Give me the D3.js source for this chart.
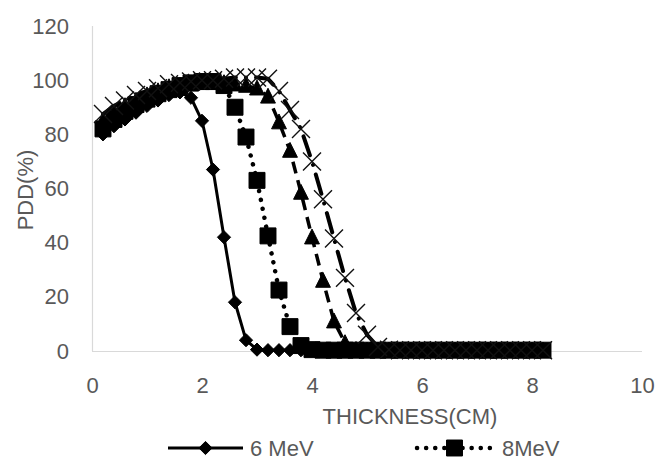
<!DOCTYPE html>
<html><head><meta charset="utf-8">
<script src="https://cdn.jsdelivr.net/npm/d3@7"></script>
<style>
body{margin:0;background:#fff}
svg{display:block}
text{font-family:"Liberation Sans",Arial,sans-serif;fill:#595959}
</style>
</head><body>
<svg id="chart" width="658" height="460"></svg>
<script>
// ---------------- data ----------------
const thickness = [0.2,0.4,0.6,0.8,1.0,1.2,1.4,1.6,1.8,2.0,2.2,2.4,2.6,2.8,3.0,3.2,3.4,3.6,3.8,4.0,4.2,4.4,4.6,4.8,5.0,5.2,5.4,5.6,5.8,6.0,6.2,6.4,6.6,6.8,7.0,7.2,7.4,7.6,7.8,8.0,8.2];
const pdd6MeV  = [80,83,85.5,88,90.5,92.5,94.5,95.5,93.5,85,67,42,18,4,0.5,0.3,0.3,0.3,0.3,0.2,0.2,0.2,0.2,0.2,0.2,0.2,0.2,0.2,0.2,0.2,0.2,0.2,0.2,0.2,0.2,0.2,0.2,0.2,0.2,0.2,0.2];
const pdd8MeV  = [82,85.5,88.5,91,93,95,96.5,98,99,99.5,99.5,98,90,79,63,42.5,22.5,9,2,0.5,0.3,0.3,0.3,0.3,0.3,0.3,0.3,0.3,0.3,0.3,0.3,0.3,0.3,0.3,0.3,0.3,0.3,0.3,0.3,0.3,0.3];
const pdd10MeV = [85,88,90.5,92.5,94.5,96,97.5,98,98.5,99,99,99,98.5,98,97,94,84.5,74,58.5,42,26,11,3,0.5,0.3,0.3,0.3,0.3,0.3,0.3,0.3,0.3,0.3,0.3,0.3,0.3,0.3,0.3,0.3,0.3,0.3];
const pdd12MeV = [87.5,90.5,92.5,94.5,96,97,98.5,99,99.5,100,100,100.5,101,101,101,100.5,96,89,82,70,56,41.5,27,14,6,1.5,0.5,0.3,0.3,0.3,0.3,0.3,0.3,0.3,0.3,0.3,0.3,0.3,0.3,0.3,0.3];
const seriesNames = ["6 MeV","8MeV","10 MeV","12 MeV"];
const xTickValues = [0,2,4,6,8,10];
const yTickValues = [0,20,40,60,80,100,120];
const xTitle = "THICKNESS(CM)";
const yTitle = "PDD(%)";

// ---------------- styles ----------------
const styles = [
  {marker:"diamond", dash:null,          width:3,   cap:"butt"},
  {marker:"square",  dash:"0.1 9",       width:4.5, cap:"round"},
  {marker:"triangle",dash:"12 7",        width:3.5, cap:"butt"},
  {marker:"x",       dash:"20 10 0.1 10",width:4,   cap:"round"}
];
const values = [pdd6MeV, pdd8MeV, pdd10MeV, pdd12MeV];

const svg = d3.select("#chart");
const x = d3.scaleLinear().domain([0,10]).range([92,642]);
const y = d3.scaleLinear().domain([0,120]).range([351,26]);

// axes
const xAxis = d3.axisBottom(x).tickValues(xTickValues).tickSize(0).tickPadding(26);
const yAxis = d3.axisLeft(y).tickValues(yTickValues).tickSize(0).tickPadding(23);

const gx = svg.append("g").attr("transform",`translate(0,${y(0)})`).call(xAxis);
const gy = svg.append("g").attr("transform",`translate(${x(0)},0)`).call(yAxis);
[gx,gy].forEach(g=>{
  g.select(".domain").attr("stroke","#d9d9d9").attr("stroke-width",1.2);
  g.selectAll("text").attr("font-size",22).attr("fill","#595959")
    .attr("font-family",'"Liberation Sans",Arial,sans-serif');
});
gx.select(".domain").attr("d",`M${x(0)},0.5H${x(10)}`);
gy.select(".domain").attr("d",`M0.5,${y(0)}V${y(120)}`);

// marker path generator
function markerPath(type, s){
  if(type==="diamond"){ const r=s*0.55; return `M0,${-r}L${r},0L0,${r}L${-r},0Z`; }
  if(type==="square"){ const h=s*0.55; return `M${-h},${-h}H${h}V${h}H${-h}Z`; }
  if(type==="triangle"){ const h=s*0.55; return `M0,${-h*1.1}L${h},${h*0.9}L${-h},${h*0.9}Z`; }
  if(type==="x"){ const h=s*0.62; return `M${-h},${-h}L${h},${h}M${h},${-h}L${-h},${h}`; }
}
const markerSize = {diamond:12, square:14.5, triangle:13.5, x:14.5};

function drawMarker(g, type, cx, cy){
  const p = g.append("path").attr("d", markerPath(type, markerSize[type]))
    .attr("transform",`translate(${cx},${cy})`);
  if(type==="x") p.attr("fill","none").attr("stroke","#111").attr("stroke-width",1.4);
  else p.attr("fill","#000").attr("stroke","#000").attr("stroke-width",1);
}

const line = d3.line().x(d=>x(d[0])).y(d=>y(d[1]));

values.forEach((vals,i)=>{
  const st = styles[i];
  const pts = thickness.map((t,k)=>[t, vals[k]]);
  const g = svg.append("g").attr("class","series");
  g.append("path").attr("d", line(pts)).attr("fill","none")
    .attr("stroke","#000").attr("stroke-width",st.width)
    .attr("stroke-linecap",st.cap).attr("stroke-linejoin","round")
    .attr("stroke-dasharray",st.dash);
  pts.forEach(p=>drawMarker(g, st.marker, x(p[0]), y(p[1])));
});

// titles
svg.append("text").attr("x",410).attr("y",424).attr("text-anchor","middle")
  .attr("font-size",22).text(xTitle);
svg.append("text").attr("transform","translate(33,190) rotate(-90)")
  .attr("text-anchor","middle").attr("font-size",22).text(yTitle);

// legend (first row visible)
const legendItems = [
  {name:seriesNames[0], st:styles[0], x0:168, x1:243, tx:250},
  {name:seriesNames[1], st:styles[1], x0:417, x1:492, tx:502}
];
const ly = 448;
legendItems.forEach(it=>{
  const g = svg.append("g");
  g.append("line").attr("x1",it.x0).attr("x2",it.x1).attr("y1",ly).attr("y2",ly)
    .attr("stroke","#000").attr("stroke-width",it.st.width)
    .attr("stroke-linecap",it.st.cap).attr("stroke-dasharray",it.st.dash);
  drawMarker(g, it.st.marker, (it.x0+it.x1)/2, ly);
  g.append("text").attr("x",it.tx).attr("y",ly+8).attr("font-size",22).text(it.name);
});
</script>
</body></html>
